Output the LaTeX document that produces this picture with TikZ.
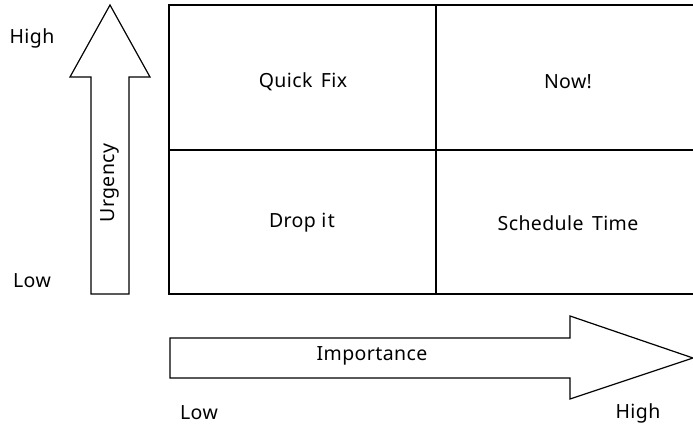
\documentclass[tikz,border=0pt]{standalone}
\usepackage{fontspec}
\setmainfont{Noto Sans}[LetterSpace=2]
\begin{document}
\begin{tikzpicture}[x=1pt,y=-1pt,
  lbl/.style={font=\fontsize{19.5}{23}\selectfont, inner sep=0pt, anchor=center},
  grid/.style={line width=1.6pt},
  arr/.style={draw, line width=1.2pt, fill=white, line join=miter}]
\useasboundingbox (0,0) rectangle (693,427);
% quadrant grid (right side runs off the picture)
\draw[grid] (705,5) -- (169,5) -- (169,294) -- (705,294);
\draw[grid] (169,150) -- (705,150);
\draw[grid] (436,5) -- (436,294);
\node[lbl] (qf) at (303,82) {Quick\hspace{3pt} Fix};
\node[lbl] (now) at (568,82) {Now!};
\node[lbl] (drop) at (302,223) {Drop i\kern1.5pt t};
\node[lbl] (sched) at (568,223) {Schedule\hspace{3pt} Time};
% vertical arrow
\draw[arr] (91,294) -- (91,77) -- (70,77) -- (110,5) -- (150,77) -- (129,77) -- (129,294) -- cycle;
\node[lbl, rotate=90] (urg) at (110,183) {Urgency};
\node[lbl] (vhigh) at (32,38) {High};
\node[lbl] (vlow) at (32,281) {Low};
% horizontal arrow
\draw[arr] (170,338) -- (570,338) -- (570,316) -- (693,358) -- (570,399) -- (570,378) -- (170,378) -- cycle;
\node[lbl] (imp) at (372,356) {Importance};
\node[lbl] (hlow) at (199,413) {Low};
\node[lbl] (hhigh) at (638,413) {High};
\end{tikzpicture}
\end{document}
